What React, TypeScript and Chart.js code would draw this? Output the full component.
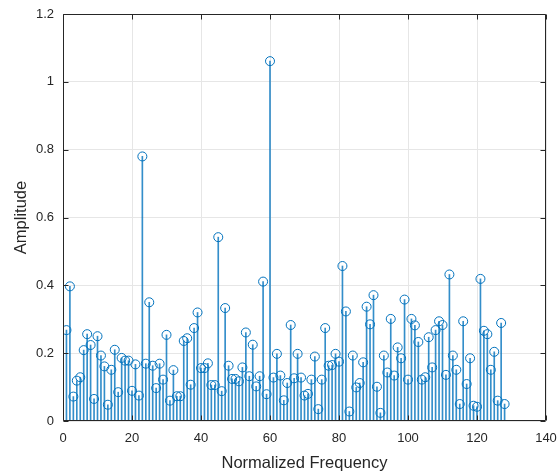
import React, { useEffect, useRef } from "react";
import { Chart, registerables } from "chart.js";

Chart.register(...registerables);

const frequency = [
  1, 2, 3, 4, 5, 6, 7, 8, 9, 10, 11, 12, 13, 14, 15, 16, 17, 18, 19, 20,
  21, 22, 23, 24, 25, 26, 27, 28, 29, 30, 31, 32, 33, 34, 35, 36, 37, 38, 39, 40,
  41, 42, 43, 44, 45, 46, 47, 48, 49, 50, 51, 52, 53, 54, 55, 56, 57, 58, 59, 60,
  61, 62, 63, 64, 65, 66, 67, 68, 69, 70, 71, 72, 73, 74, 75, 76, 77, 78, 79, 80,
  81, 82, 83, 84, 85, 86, 87, 88, 89, 90, 91, 92, 93, 94, 95, 96, 97, 98, 99, 100,
  101, 102, 103, 104, 105, 106, 107, 108, 109, 110, 111, 112, 113, 114, 115, 116, 117, 118, 119, 120,
  121, 122, 123, 124, 125, 126, 127, 128,
];

const amplitude = [
  0.268, 0.397, 0.072, 0.119, 0.129, 0.209, 0.256, 0.224, 0.065, 0.25,
  0.193, 0.161, 0.048, 0.151, 0.21, 0.085, 0.186, 0.178, 0.178, 0.089,
  0.167, 0.075, 0.78, 0.169, 0.35, 0.163, 0.097, 0.169, 0.122, 0.254,
  0.06, 0.15, 0.073, 0.073, 0.236, 0.244, 0.107, 0.274, 0.32, 0.156,
  0.156, 0.17, 0.106, 0.106, 0.542, 0.088, 0.333, 0.163, 0.124, 0.124,
  0.117, 0.158, 0.261, 0.132, 0.225, 0.102, 0.132, 0.411, 0.079, 1.061,
  0.128, 0.198, 0.134, 0.061, 0.112, 0.283, 0.126, 0.198, 0.128, 0.075,
  0.08, 0.122, 0.19, 0.035, 0.122, 0.274, 0.163, 0.165, 0.198, 0.175,
  0.457, 0.323, 0.028, 0.193, 0.099, 0.112, 0.173, 0.337, 0.285, 0.371,
  0.101, 0.024, 0.193, 0.143, 0.301, 0.134, 0.217, 0.185, 0.358, 0.122,
  0.301, 0.282, 0.233, 0.122, 0.129, 0.247, 0.158, 0.268, 0.294, 0.283,
  0.136, 0.432, 0.193, 0.151, 0.05, 0.294, 0.109, 0.185, 0.045, 0.042,
  0.419, 0.266, 0.256, 0.151, 0.204, 0.06, 0.289, 0.05,
];

const xTicks = [0, 20, 40, 60, 80, 100, 120, 140];
const yTicks = [0, 0.2, 0.4, 0.6, 0.8, 1, 1.2];

const xLabel = "Normalized Frequency";
const yLabel = "Amplitude";

const STEM = "#0072BD";
const STEM_LINE = "rgba(0,114,189,0.8)";
const AXIS = "#262626";
const GRID = "#e6e6e6";
const FONT = "'Liberation Sans', Arial, sans-serif";

const boxPlugin = {
  id: "matlabBox",
  afterDatasetsDraw(chart: any) {
    const { ctx, chartArea: a, scales } = chart;
    const L = Math.round(a.left) + 0.5;
    const R = Math.round(a.right) - 0.5;
    const T = Math.round(a.top) + 0.5;
    const B = Math.round(a.bottom) - 0.5;
    const tl = 5;
    ctx.save();
    ctx.strokeStyle = AXIS;
    ctx.lineWidth = 1;
    ctx.beginPath();
    ctx.moveTo(L, T);
    ctx.lineTo(R, T);
    ctx.lineTo(R, B);
    ctx.lineTo(L, B);
    ctx.closePath();
    xTicks.forEach((v) => {
      const px = Math.round(scales.x.getPixelForValue(v)) + 0.5;
      ctx.moveTo(px, B);
      ctx.lineTo(px, B - tl);
      ctx.moveTo(px, T);
      ctx.lineTo(px, T + tl);
    });
    yTicks.forEach((v) => {
      const py = Math.round(scales.y.getPixelForValue(v)) + 0.5;
      ctx.moveTo(L, py);
      ctx.lineTo(L + tl, py);
      ctx.moveTo(R, py);
      ctx.lineTo(R - tl, py);
    });
    ctx.stroke();
    ctx.restore();
  },
};

export default function App() {
  const canvasRef = useRef<HTMLCanvasElement | null>(null);

  useEffect(() => {
    const canvas = canvasRef.current;
    if (!canvas) return;
    const points = frequency.map((f, i) => ({ x: f, y: amplitude[i] }));
    const chart = new Chart(canvas, {
      type: "bar",
      data: {
        datasets: [
          {
            type: "scatter",
            data: points,
            showLine: false,
            pointStyle: "circle",
            pointRadius: 4.5,
            pointBorderWidth: 1,
            pointBorderColor: STEM,
            pointBackgroundColor: "rgba(0,0,0,0)",
            order: 0,
          } as any,
          {
            type: "bar",
            data: points,
            backgroundColor: STEM_LINE,
            borderWidth: 0,
            barThickness: 1,
            grouped: false,
            order: 1,
          } as any,
        ],
      },
      options: {
        animation: false,
        responsive: false,
        devicePixelRatio: 1,
        layout: { padding: { top: 14, right: 14, left: 0, bottom: 0 } },
        plugins: {
          legend: { display: false },
          tooltip: { enabled: false },
        },
        scales: {
          x: {
            type: "linear",
            min: 0,
            max: 140,
            offset: false,
            afterBuildTicks: (s: any) => {
              s.ticks = xTicks.map((v) => ({ value: v }));
            },
            afterFit: (s: any) => {
              s.height = 54;
              s.paddingLeft = 0;
              s.paddingRight = 0;
            },
            grid: { color: GRID, offset: false, drawTicks: false, tickLength: 0 },
            border: { display: false },
            ticks: {
              color: AXIS,
              font: { family: FONT, size: 13 },
              padding: 10,
              maxRotation: 0,
            },
            title: {
              display: true,
              text: xLabel,
              color: AXIS,
              font: { family: FONT, size: 16.5 },
              padding: { top: 0, bottom: 2 },
            },
          },
          y: {
            type: "linear",
            min: 0,
            max: 1.2,
            afterBuildTicks: (s: any) => {
              s.ticks = yTicks.map((v) => ({ value: v }));
            },
            afterFit: (s: any) => {
              s.width = 63;
              s.paddingTop = 0;
              s.paddingBottom = 0;
            },
            grid: { color: GRID, drawTicks: false, tickLength: 0 },
            border: { display: false },
            ticks: {
              color: AXIS,
              font: { family: FONT, size: 13 },
              padding: 9,
              callback: (v: any) => String(Math.round(Number(v) * 10) / 10),
            },
            title: {
              display: true,
              text: yLabel,
              color: AXIS,
              font: { family: FONT, size: 16.5 },
              padding: { top: 11.5, bottom: 0 },
            },
          },
        },
      },
      plugins: [boxPlugin],
    });
    return () => chart.destroy();
  }, []);

  return (
    <div style={{ position: "fixed", left: 0, top: 0, width: 560, height: 475, background: "#fff" }}>
      <canvas ref={canvasRef} width={560} height={475} style={{ width: 560, height: 475, display: "block" }} />
    </div>
  );
}
